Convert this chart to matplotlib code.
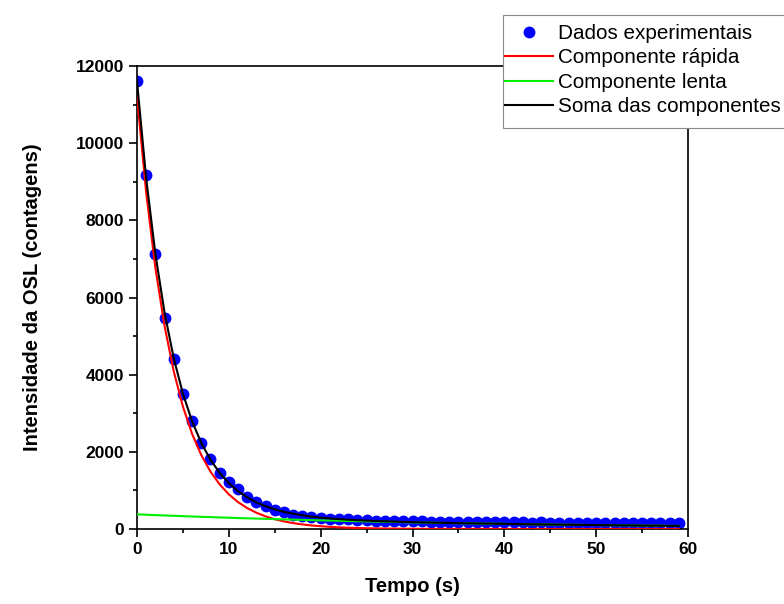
import numpy as np
import matplotlib
matplotlib.use('Agg')
from matplotlib import pyplot as plt
from matplotlib.ticker import MultipleLocator
from matplotlib.patches import Rectangle

plt.rcParams['font.family'] = ['Liberation Sans', 'DejaVu Sans']

# tempo (s)
tempo = np.arange(0, 60)

# dados experimentais (contagens)
dados = [11600, 9180, 7130, 5480, 4400, 3490, 2800, 2220, 1810, 1460,
         1220, 1030, 840, 710, 590, 500, 430, 370, 340, 320,
         290, 270, 260, 250, 235, 225, 215, 210, 200, 200,
         210, 195, 190, 185, 180, 185, 175, 175, 170, 170,
         175, 180, 170, 165, 170, 160, 155, 160, 150, 155,
         165, 160, 155, 150, 150, 155, 145, 150, 145, 150]

# componente rapida
rapida = [11220, 8716, 6771, 5260, 4086, 3174, 2466, 1915, 1488, 1156,
          898, 697, 542, 421, 327, 254, 197, 153, 119, 92,
          72, 56, 43, 34, 26, 20, 16, 12, 10, 7,
          6, 4, 3, 3, 2, 2, 1, 1, 1, 1,
          0, 0, 0, 0, 0, 0, 0, 0, 0, 0,
          0, 0, 0, 0, 0, 0, 0, 0, 0, 0]

# componente lenta
lenta = [380, 370, 360, 351, 342, 333, 324, 316, 308, 300,
         292, 284, 277, 270, 263, 256, 249, 243, 237, 230,
         224, 219, 213, 207, 202, 197, 192, 187, 182, 177,
         172, 168, 164, 159, 155, 151, 147, 143, 140, 136,
         133, 129, 126, 122, 119, 116, 113, 110, 107, 105,
         102, 99, 97, 94, 92, 89, 87, 85, 82, 80]

soma = np.array(rapida) + np.array(lenta)

fig = plt.figure(figsize=(7.84, 6.04), dpi=100)
ax = fig.add_axes([137/784, 75/604, 551/784, 463/604])

ax.plot(tempo, dados, 'o', color='#0000ff', markersize=7.5, label='Dados experimentais', zorder=2)
ax.plot(tempo, rapida, color='#ff0000', lw=1.5, label='Componente rápida', zorder=3)
ax.plot(tempo, lenta, color='#00ee00', lw=1.5, label='Componente lenta', zorder=3)
ax.plot(tempo, soma, color='black', lw=1.5, label='Soma das componentes', zorder=4)

ax.set_xlim(0, 60)
ax.set_ylim(0, 12000)
ax.xaxis.set_major_locator(MultipleLocator(10))
ax.xaxis.set_minor_locator(MultipleLocator(5))
ax.yaxis.set_major_locator(MultipleLocator(2000))
ax.yaxis.set_minor_locator(MultipleLocator(1000))
ax.tick_params(which='major', direction='out', length=5.5, width=1.2, labelsize=12.5, pad=4)
ax.tick_params(which='minor', direction='out', length=3, width=1.2)
for lab in ax.get_xticklabels() + ax.get_yticklabels():
    lab.set_fontweight('bold')
for s in ax.spines.values():
    s.set_linewidth(1.2)

ax.set_xlabel('Tempo (s)', fontsize=14.5, fontweight='bold', labelpad=14)
ax.set_ylabel('Intensidade da OSL (contagens)', fontsize=14.5, fontweight='bold', labelpad=24)

# caixa da legenda (desenhada a parte)
caixa = Rectangle((503/784, 1 - 128/604), 290/784, 113/604, transform=fig.transFigure,
                  facecolor='white', edgecolor='#888888', linewidth=0.8, zorder=4)
fig.add_artist(caixa)

h, l = ax.get_legend_handles_labels()
leg = fig.legend(h, l, loc='upper left', bbox_to_anchor=(505/784, 1 - 24/604),
                 borderaxespad=0, fontsize=14.9, frameon=False,
                 handlelength=2.3, handletextpad=0.24, labelspacing=0.26,
                 borderpad=0, numpoints=1)
leg.set_zorder(5)

plt.savefig('out.png', dpi=100)
